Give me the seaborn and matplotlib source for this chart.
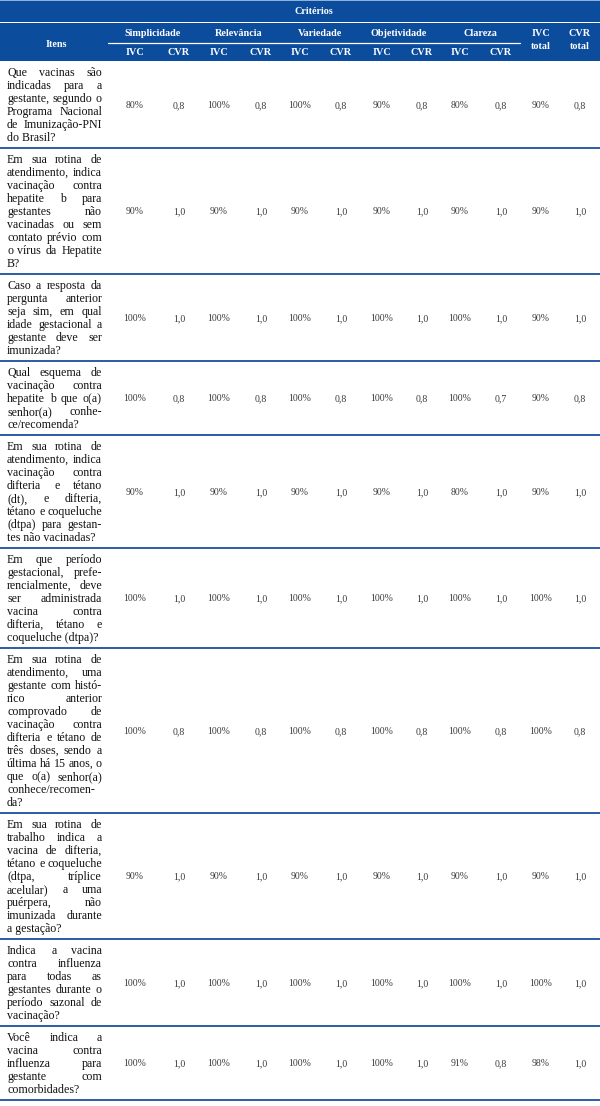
import matplotlib
matplotlib.use("Agg")
import matplotlib.pyplot as plt
from matplotlib.patches import Rectangle
import seaborn as sns

# data: criteria, item texts (line breaks as in the source table), IVC (%) and CVR per criterion
criteria = ["Simplicidade", "Relevância", "Variedade", "Objetividade", "Clareza"]

items = [
    ["Que vacinas são", "indicadas para a", "gestante, segundo o", "Programa Nacional",
     "de Imunização-PNI", "do Brasil?"],
    ["Em sua rotina de", "atendimento, indica", "vacinação contra", "hepatite b para",
     "gestantes não", "vacinadas ou sem", "contato prévio com", "o vírus da Hepatite", "B?"],
    ["Caso a resposta da", "pergunta anterior", "seja sim, em qual", "idade gestacional a",
     "gestante deve ser", "imunizada?"],
    ["Qual esquema de", "vacinação contra", "hepatite b que o(a)", "senhor(a) conhe-",
     "ce/recomenda?"],
    ["Em sua rotina de", "atendimento, indica", "vacinação contra", "difteria e tétano",
     "(dt), e difteria,", "tétano e coqueluche", "(dtpa) para gestan-", "tes não vacinadas?"],
    ["Em que período", "gestacional, prefe-", "rencialmente, deve", "ser administrada",
     "vacina contra", "difteria, tétano e", "coqueluche (dtpa)?"],
    ["Em sua rotina de", "atendimento, uma", "gestante com histó-", "rico anterior",
     "comprovado de", "vacinação contra", "difteria e tétano de", "três doses, sendo a",
     "última há 15 anos, o", "que o(a) senhor(a)", "conhece/recomen-", "da?"],
    ["Em sua rotina de", "trabalho indica a", "vacina de difteria,", "tétano e coqueluche",
     "(dtpa, tríplice", "acelular) a uma", "puérpera, não", "imunizada durante",
     "a gestação?"],
    ["Indica a vacina", "contra influenza", "para todas as", "gestantes durante o",
     "período sazonal de", "vacinação?"],
    ["Você indica a", "vacina contra", "influenza para", "gestante com", "comorbidades?"],
]

ivc_simplicidade = [80, 90, 100, 100, 90, 100, 100, 90, 100, 100]
cvr_simplicidade = [0.8, 1.0, 1.0, 0.8, 1.0, 1.0, 0.8, 1.0, 1.0, 1.0]
ivc_relevancia = [100, 90, 100, 100, 90, 100, 100, 90, 100, 100]
cvr_relevancia = [0.8, 1.0, 1.0, 0.8, 1.0, 1.0, 0.8, 1.0, 1.0, 1.0]
ivc_variedade = [100, 90, 100, 100, 90, 100, 100, 90, 100, 100]
cvr_variedade = [0.8, 1.0, 1.0, 0.8, 1.0, 1.0, 0.8, 1.0, 1.0, 1.0]
ivc_objetividade = [90, 90, 100, 100, 90, 100, 100, 90, 100, 100]
cvr_objetividade = [0.8, 1.0, 1.0, 0.8, 1.0, 1.0, 0.8, 1.0, 1.0, 1.0]
ivc_clareza = [80, 90, 100, 100, 80, 100, 100, 90, 100, 91]
cvr_clareza = [0.8, 1.0, 1.0, 0.7, 1.0, 1.0, 0.8, 1.0, 1.0, 0.8]
ivc_total = [90, 90, 90, 90, 90, 100, 100, 90, 100, 98]
cvr_total = [0.8, 1.0, 1.0, 0.8, 1.0, 1.0, 0.8, 1.0, 1.0, 1.0]

sns.set_theme(style="white")
plt.rcParams["font.family"] = ["Liberation Serif", "DejaVu Serif"]

BLUE = "#0b4c9c"
LINE = "#2a5ca6"
W, H = 600, 1106

fig = plt.figure(figsize=(W / 100, 11.062), dpi=100)
ax = fig.add_axes([0, 0, 1, 1])
ax.set_xlim(0, W)
ax.set_ylim(H, 0)
ax.axis("off")
renderer = fig.canvas.get_renderer()

# header bands
ax.add_patch(Rectangle((0, 0), W, 1.2, color="#8fb0d8", lw=0))
ax.add_patch(Rectangle((0, 1.2), W, 20.5, color=BLUE, lw=0))
ax.add_patch(Rectangle((0, 23.5), W, 37.5, color=BLUE, lw=0))
hdr = dict(color="white", fontweight="bold", fontsize=7.3, ha="center", va="baseline")
hb = 3.4  # baseline offset from visual centre
ax.text(314, 11 + hb, "Critérios", **hdr)
ax.text(56, 44 + hb, "Itens", **hdr)

group_x = [153, 239, 320, 399, 480]
ivc_x = [135, 219, 300, 382, 460]
cvr_x = [179, 261, 341, 422, 501]
for name, gx, ix, cx in zip(criteria, group_x, ivc_x, cvr_x):
    ax.text(gx, 33 + hb, name, **hdr)
    ax.text(ix, 52 + hb, "IVC", **hdr)
    ax.text(cx, 52 + hb, "CVR", **hdr)
ax.plot([108, 520], [43, 43], color="white", lw=0.9)
ax.text(541, 33 + hb, "IVC", **hdr)
ax.text(541, 45.5 + hb, "total", **hdr)
ax.text(580, 33 + hb, "CVR", **hdr)
ax.text(580, 45.5 + hb, "total", **hdr)

# body
columns = [ivc_simplicidade, cvr_simplicidade, ivc_relevancia, cvr_relevancia,
           ivc_variedade, cvr_variedade, ivc_objetividade, cvr_objetividade,
           ivc_clareza, cvr_clareza, ivc_total, cvr_total]
col_x = [135, 179, 219, 261, 300, 341, 382, 422, 460, 501, 541, 580]

lh, pad = 13.0, 9.0
x0, x1 = 7, 102
txt = dict(fontsize=8.6, color="#111111", va="baseline")
tb = 4.0
vb = 3.3
top = 61
for r, lines in enumerate(items):
    h = len(lines) * lh + pad
    yc = top + h / 2
    first = yc - (len(lines) - 1) * lh / 2
    for i, line in enumerate(lines):
        y = first + i * lh + tb
        words = line.split()
        if i == len(lines) - 1 or len(words) == 1:
            ax.text(x0, y, line, ha="left", **txt)
            continue
        ts = [ax.text(0, y, w, ha="left", **txt) for w in words]
        widths = [t.get_window_extent(renderer).width for t in ts]
        gap = (x1 - x0 - sum(widths)) / (len(words) - 1)
        x = x0
        for t, w in zip(ts, widths):
            t.set_x(x)
            x += w + gap
    for k, (vals, cx) in enumerate(zip(columns, col_x)):
        v = vals[r]
        label = f"{v}%" if k % 2 == 0 else f"{v:.1f}".replace(".", ",")
        ax.text(cx, yc + vb, label, ha="center", va="baseline", fontsize=7, color="#3a3a3a")
    top += h
    ax.plot([0, W], [top, top], color=LINE, lw=1.4, solid_capstyle="butt")

fig.savefig("out.png", dpi=100)
